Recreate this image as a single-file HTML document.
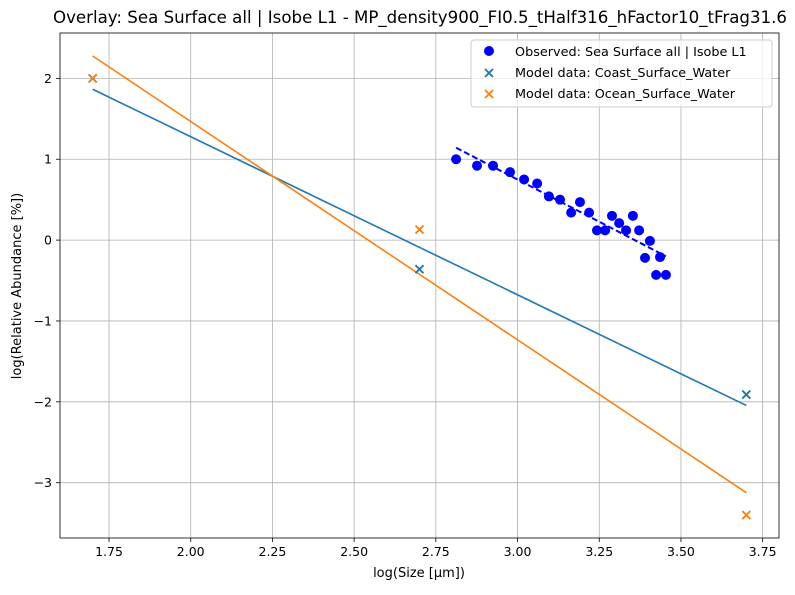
<!DOCTYPE html>
<html><head><meta charset="utf-8"><style>
body{margin:0;background:#fff}
svg text{font-family:"DejaVu Sans","Liberation Sans",sans-serif;fill:#000}
</style></head><body>
<svg id="chart" width="795" height="590" xmlns="http://www.w3.org/2000/svg"></svg>
<script>
const obsX=[2.812,2.876,2.925,2.977,3.020,3.060,3.096,3.130,3.164,3.191,3.219,3.243,3.268,3.289,3.311,3.332,3.353,3.372,3.390,3.405,3.436,3.424,3.454];
const obsY=[1.00,0.92,0.92,0.84,0.75,0.70,0.54,0.50,0.34,0.47,0.34,0.12,0.12,0.30,0.21,0.12,0.30,0.12,-0.22,-0.01,-0.21,-0.43,-0.43];
const modelX=[1.7,2.7,3.7];
const coastY=[2.0,-0.36,-1.91];
const oceanY=[2.0,0.13,-3.40];
const xTicks=[1.75,2.00,2.25,2.50,2.75,3.00,3.25,3.50,3.75];
const yTicks=[2,1,0,-1,-2,-3];
const L=60,R=779,T=33,B=538;
const xMin=1.6,xMax=3.8,yMin=-3.684,yMax=2.561;
const sx=v=>L+(v-xMin)/(xMax-xMin)*(R-L);
const sy=v=>B-(v-yMin)/(yMax-yMin)*(B-T);
const svg=document.getElementById('chart');
const NS='http://www.w3.org/2000/svg';
function mk(tag,attrs,parent){const e=document.createElementNS(NS,tag);for(const k in attrs)e.setAttribute(k,attrs[k]);(parent||svg).appendChild(e);return e;}
function fit(xs,ys){const n=xs.length;let mx=0,my=0;for(let i=0;i<n;i++){mx+=xs[i];my+=ys[i];}mx/=n;my/=n;let a=0,b=0;for(let i=0;i<n;i++){a+=(xs[i]-mx)*(ys[i]-my);b+=(xs[i]-mx)**2;}const s=a/b;return [s,my-s*mx];}
xTicks.forEach(t=>{const g=mk('line',{x1:sx(t),x2:sx(t),y1:T,y2:B,stroke:'#b0b0b0','stroke-width':0.8});


mk('line',{x1:sx(t),x2:sx(t),y1:B,y2:B+4,stroke:'#000','stroke-width':0.8});
const tx=mk('text',{x:sx(t),y:B+18,'text-anchor':'middle','font-size':12.5});tx.textContent=t.toFixed(2);

});
yTicks.forEach(t=>{const g=mk('line',{x1:L,x2:R,y1:sy(t),y2:sy(t),stroke:'#b0b0b0','stroke-width':0.8});


mk('line',{x1:L-4,x2:L,y1:sy(t),y2:sy(t),stroke:'#000','stroke-width':0.8});
const tx=mk('text',{x:L-8,y:sy(t)+4.5,'text-anchor':'end','font-size':12.5});tx.textContent=t<0?'\u2212'+Math.abs(t):String(t);

});
[[coastY,'#1f77b4','coast-fit-line'],[oceanY,'#ff7f0e','ocean-fit-line']].forEach(([ys,c,n])=>{const [s,b]=fit(modelX,ys);
const l=mk('line',{x1:sx(modelX[0]),y1:sy(s*modelX[0]+b),x2:sx(modelX[modelX.length-1]),y2:sy(s*modelX[modelX.length-1]+b),stroke:c,'stroke-width':1.6});

});
{const [s,b]=fit(obsX,obsY);const x0=Math.min(...obsX),x1=Math.max(...obsX);
const l=mk('line',{x1:sx(x0),y1:sy(s*x0+b),x2:sx(x1),y2:sy(s*x1+b),stroke:'#0000ff','stroke-width':2,'stroke-dasharray':'6,3'});

}
obsX.forEach((x,i)=>{const c=mk('circle',{cx:sx(x),cy:sy(obsY[i]),r:5,fill:'#0000ff'});

});
function cross(cx,cy,c,parent){const g=mk('g',{stroke:c,'stroke-width':1.9},parent);
mk('line',{x1:cx-4,y1:cy-4,x2:cx+4,y2:cy+4},g);mk('line',{x1:cx-4,y1:cy+4,x2:cx+4,y2:cy-4},g);return g;}
modelX.forEach((x,i)=>{const g=cross(sx(x),sy(coastY[i]),'#1f77b4');

});
modelX.forEach((x,i)=>{const g=cross(sx(x),sy(oceanY[i]),'#ff7f0e');

});
const fr=mk('rect',{x:L,y:T,width:R-L,height:B-T,fill:'none',stroke:'#000','stroke-width':0.8});


const lg=mk('g',{});


mk('rect',{x:471,y:40,width:301,height:67,rx:3,fill:'#fff','fill-opacity':0.8,stroke:'#ccc'},lg);
mk('circle',{cx:489,cy:51,r:5,fill:'#0000ff'},lg);
cross(489,73,'#1f77b4',lg);cross(489,94,'#ff7f0e',lg);
[['Observed: Sea Surface all | Isobe L1',56],['Model data: Coast_Surface_Water',77],['Model data: Ocean_Surface_Water',98]].forEach(([t,y])=>{
const tx=mk('text',{x:515,y:y,'font-size':12.8},lg);tx.textContent=t;

});
const ti=mk('text',{x:420,y:23,'text-anchor':'middle','font-size':16.7,textLength:734,lengthAdjust:'spacingAndGlyphs'});ti.textContent='Overlay: Sea Surface all | Isobe L1 - MP_density900_FI0.5_tHalf316_hFactor10_tFrag31.6';


const xl=mk('text',{x:419,y:577,'text-anchor':'middle','font-size':13});xl.textContent='log(Size [μm])';


const yl=mk('text',{x:21,y:286,'text-anchor':'middle','font-size':13,transform:'rotate(-90 21 286)'});yl.textContent='log(Relative Abundance [%])';


</script>
</body></html>
